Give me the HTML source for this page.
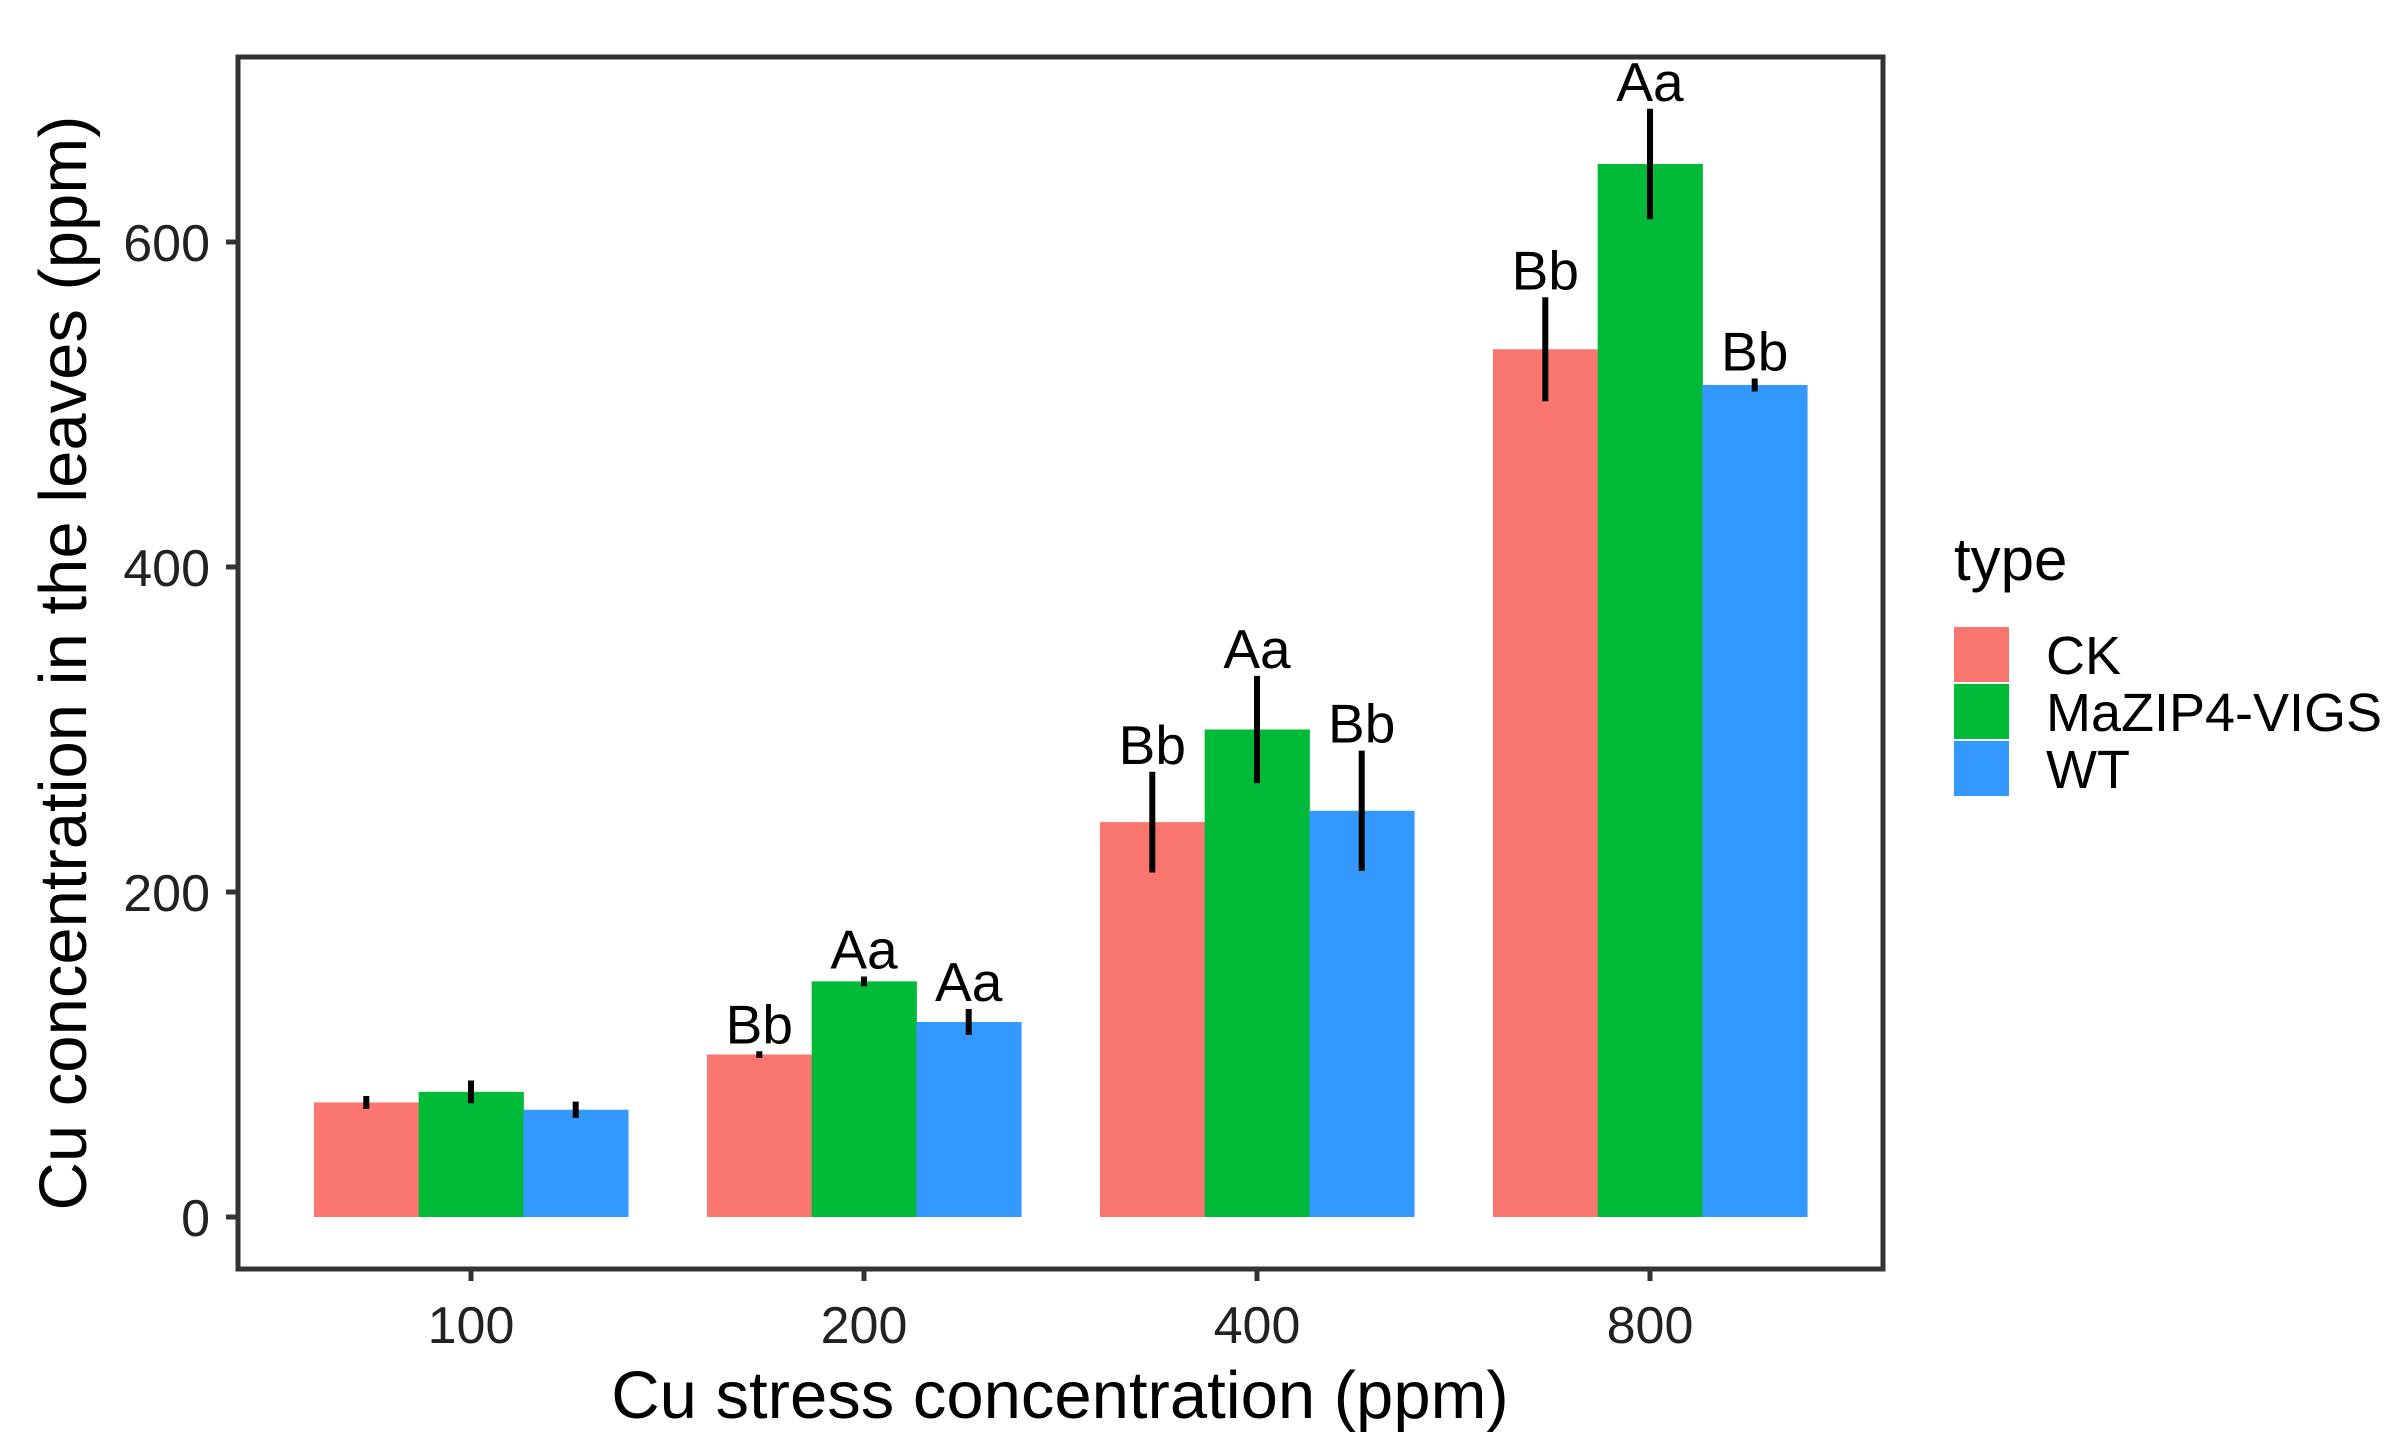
<!DOCTYPE html>
<html><head><meta charset="utf-8"><style>
html,body{margin:0;padding:0;background:#fff;}
svg{display:block;font-family:"Liberation Sans",Arial,sans-serif;}
</style></head><body>
<svg id="chart" width="2396" height="1454" viewBox="0 0 2396 1454">
<rect x="0" y="0" width="2396" height="1454" fill="#fff"/>
<g id="bars"></g>
<g id="errs"></g>
<g id="sig"></g>
<rect x="238" y="57" width="1645" height="1212" fill="none" stroke="#333" stroke-width="5"/>
<g id="yticks"></g>
<g id="xticks"></g>
<text x="1060" y="1418" font-size="67" text-anchor="middle" fill="#000">Cu stress concentration (ppm)</text>
<text transform="translate(86,663) rotate(-90)" font-size="67" text-anchor="middle" fill="#000">Cu concentration in the leaves (ppm)</text>
<g>
<text x="1954" y="580" font-size="60" fill="#000">type</text>
<g id="legend"></g>
</g>
</svg>
<script>
const categories = ["100","200","400","800"];
const series = ["CK","MaZIP4-VIGS","WT"];
const colors = ["#F8766D","#00BA38","#3399FF"];
const ckValues = [70.5,100,243,534];
const vigsValues = [77,145,300,648];
const wtValues = [66,120,250,512];
const ckErr = [4,2,31,32];
const vigsErr = [7,3,33,34];
const wtErr = [5,8,37,4];
const ckSig = ["","Bb","Bb","Bb"];
const vigsSig = ["","Aa","Aa","Aa"];
const wtSig = ["","Aa","Bb","Bb"];
const yTicks = [0,200,400,600];

const NS="http://www.w3.org/2000/svg";
const values=[ckValues,vigsValues,wtValues];
const errs=[ckErr,vigsErr,wtErr];
const sigs=[ckSig,vigsSig,wtSig];
const y0=1217, yPer=(1217-242)/600;
function yScale(v){return y0 - v*yPer;}
const cx0=471, cStep=393, barW=104.7;
function xCenter(i){return cx0 + i*cStep;}
function mk(tag,attrs,parent){const e=document.createElementNS(NS,tag);for(const k in attrs)e.setAttribute(k,attrs[k]);parent.appendChild(e);return e;}
const gb=document.getElementById('bars'),ge=document.getElementById('errs'),gs=document.getElementById('sig');
for(let s=0;s<3;s++){
  for(let i=0;i<categories.length;i++){
    const x=xCenter(i)-1.5*barW+s*barW;
    const v=values[s][i];
    const r=mk('rect',{x:x,y:yScale(v),width:barW+0.5,height:yScale(0)-yScale(v),fill:colors[s]},gb);
    
    
    const xc=x+barW/2, e=errs[s][i];
    const l=mk('line',{x1:xc,x2:xc,y1:yScale(v+e),y2:yScale(v-e),stroke:'#000','stroke-width':6},ge);
    
    
    if(sigs[s][i]){
      const t=mk('text',{x:xc,y:yScale(v+e)-8,'font-size':55,'text-anchor':'middle',fill:'#000'},gs);
      t.textContent=sigs[s][i];
      
      
    }
  }
}
const gy=document.getElementById('yticks');
yTicks.forEach(v=>{
  const l=mk('line',{x1:226,x2:238,y1:yScale(v),y2:yScale(v),stroke:'#333','stroke-width':5},gy);
  
  
  const t=mk('text',{x:210,y:yScale(v)+19,'font-size':52,'text-anchor':'end',fill:'#222'},gy);
  t.textContent=v;
  
  
});
const gx=document.getElementById('xticks');
categories.forEach((c,i)=>{
  const l=mk('line',{x1:xCenter(i),x2:xCenter(i),y1:1269,y2:1281,stroke:'#333','stroke-width':5},gx);
  
  
  const t=mk('text',{x:xCenter(i),y:1343,'font-size':52,'text-anchor':'middle',fill:'#222'},gx);
  t.textContent=c;
  
  
});
const gl=document.getElementById('legend');
series.forEach((s,i)=>{
  const r=mk('rect',{x:1954,y:627+i*57,width:55,height:55,fill:colors[i]},gl);
  
  
  const t=mk('text',{x:2046,y:674+i*57,'font-size':54,fill:'#000'},gl);
  t.textContent=s;
  
  
});
</script>
</body></html>
